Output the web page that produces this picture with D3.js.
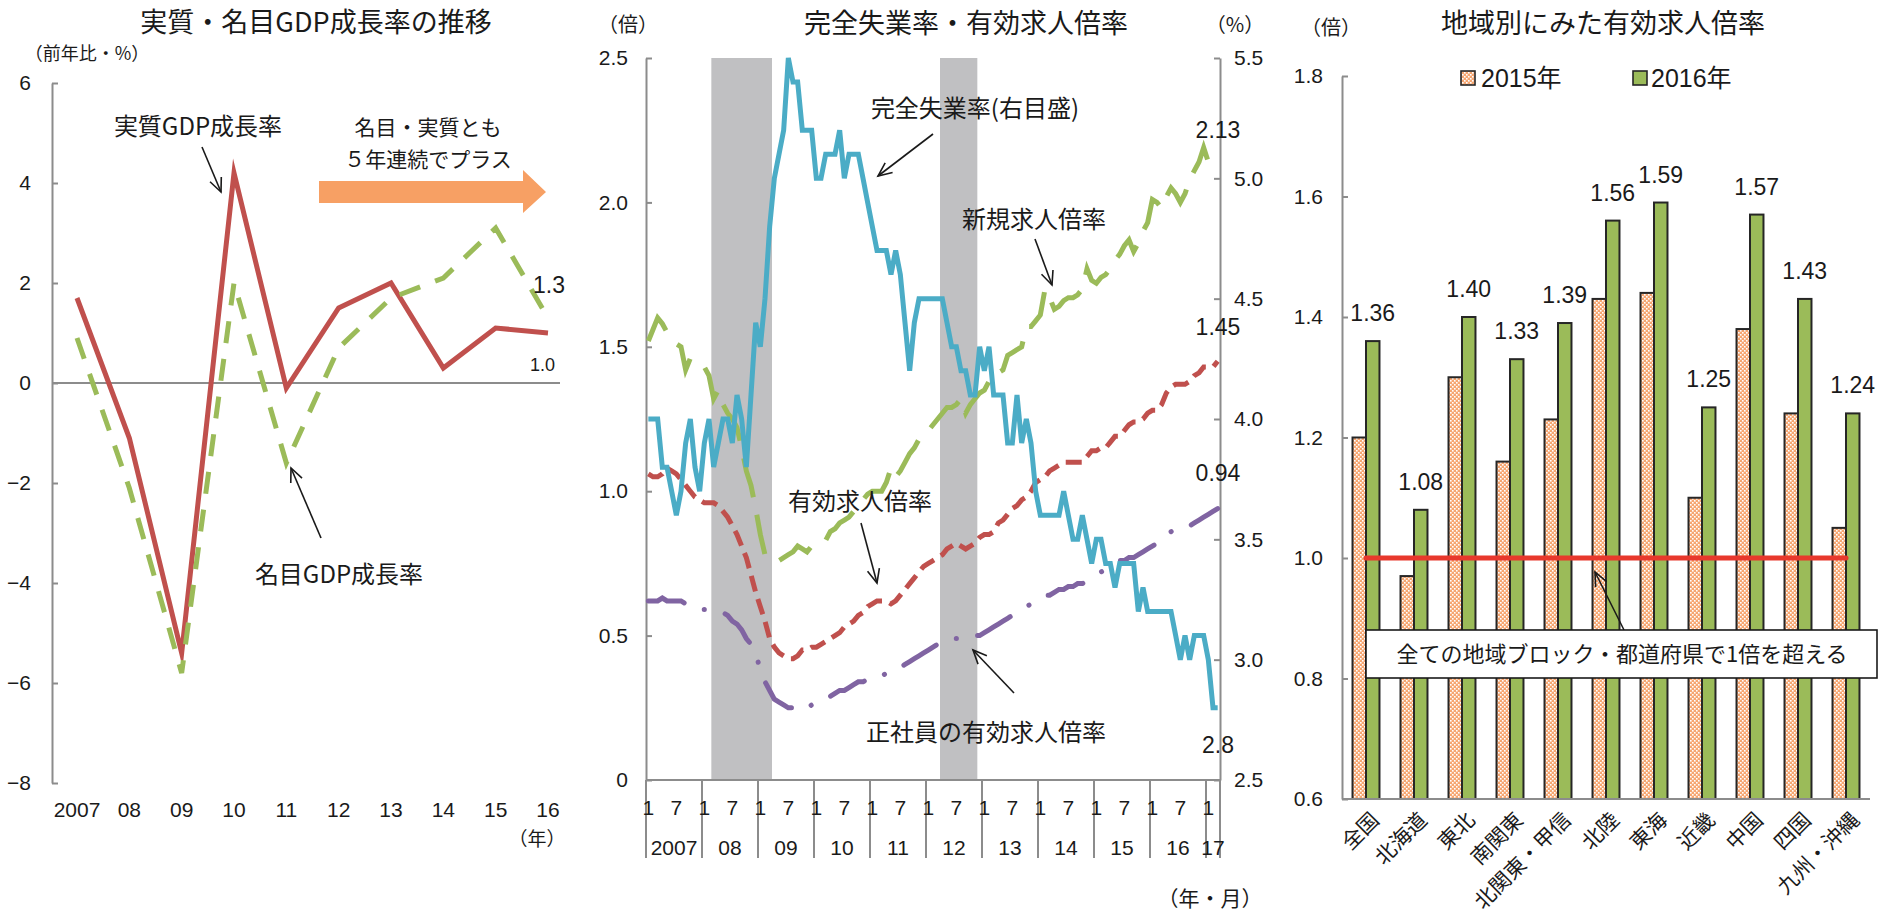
<!DOCTYPE html>
<html>
<head>
<meta charset="utf-8">
<script src="https://cdn.jsdelivr.net/npm/d3@7"></script>
<style>
  html, body { margin: 0; padding: 0; background: #fff; }
  svg { display: block; }
  text { font-family: "Liberation Sans", "Noto Sans CJK JP", sans-serif; fill: #1a1a1a; }
  .jp { font-family: "Noto Sans CJK JP", sans-serif; }
</style>
</head>
<body>
<svg id="chart" width="1883" height="914"></svg>
<script>
// ---------- Panel 1: GDP growth (annual, %) ----------
const gdpYears   = ["2007", "08", "09", "10", "11", "12", "13", "14", "15", "16"];
const realGdp    = [1.7, -1.1, -5.4, 4.2, -0.1, 1.5, 2.0, 0.3, 1.1, 1.0];
const nominalGdp = [0.9, -2.1, -5.8, 2.0, -1.6, 0.7, 1.7, 2.1, 3.1, 1.3];
const gdpTicks   = [-8, -6, -4, -2, 0, 2, 4, 6];

// ---------- Panel 2: monthly labour market, 2007/1 - 2017/3 ----------
const unemployment = [
  4.0,4.0,4.0,3.8,3.8,3.7,3.6,3.7,3.9,4.0,3.8,3.7,
  3.9,4.0,3.8,3.9,4.0,4.0,3.9,4.1,4.0,3.8,4.1,4.4,
  4.3,4.5,4.8,5.0,5.1,5.2,5.5,5.4,5.4,5.2,5.2,5.2,
  5.0,5.0,5.1,5.1,5.1,5.2,5.0,5.1,5.1,5.1,5.0,4.9,
  4.8,4.7,4.7,4.7,4.6,4.7,4.6,4.4,4.2,4.4,4.5,4.5,
  4.5,4.5,4.5,4.5,4.4,4.3,4.3,4.2,4.2,4.1,4.1,4.3,
  4.2,4.3,4.1,4.1,4.1,3.9,3.9,4.1,3.9,4.0,3.9,3.7,
  3.6,3.6,3.6,3.6,3.6,3.7,3.6,3.5,3.5,3.6,3.5,3.4,
  3.5,3.5,3.4,3.4,3.3,3.4,3.4,3.4,3.4,3.2,3.3,3.2,
  3.2,3.2,3.2,3.2,3.2,3.1,3.0,3.1,3.0,3.1,3.1,3.1,
  3.0,2.8,2.8
];
const jobsRatio = [
  1.06,1.05,1.05,1.06,1.08,1.07,1.06,1.04,1.02,1.00,0.98,0.97,
  0.96,0.96,0.96,0.95,0.93,0.91,0.88,0.85,0.81,0.77,0.71,0.65,
  0.60,0.55,0.49,0.46,0.44,0.43,0.42,0.42,0.43,0.45,0.45,0.46,
  0.46,0.47,0.48,0.49,0.50,0.51,0.53,0.54,0.55,0.57,0.58,0.60,
  0.61,0.62,0.62,0.62,0.61,0.62,0.64,0.66,0.68,0.70,0.72,0.74,
  0.75,0.76,0.77,0.78,0.80,0.81,0.82,0.81,0.80,0.81,0.82,0.84,
  0.85,0.85,0.86,0.89,0.90,0.92,0.94,0.95,0.97,0.98,1.00,1.03,
  1.04,1.05,1.07,1.08,1.09,1.10,1.10,1.10,1.10,1.10,1.12,1.14,
  1.14,1.15,1.15,1.17,1.19,1.19,1.21,1.23,1.24,1.24,1.25,1.27,
  1.28,1.28,1.30,1.34,1.36,1.37,1.37,1.37,1.38,1.40,1.41,1.43,
  1.43,1.43,1.45
];
const newJobsRatio = [
  1.52,1.56,1.60,1.58,1.55,1.53,1.51,1.50,1.42,1.46,1.45,1.44,
  1.43,1.40,1.32,1.35,1.30,1.27,1.25,1.22,1.15,1.07,1.02,0.94,
  0.85,0.78,0.78,0.76,0.76,0.77,0.78,0.79,0.81,0.80,0.79,0.81,
  0.81,0.82,0.83,0.86,0.87,0.89,0.90,0.91,0.93,0.96,0.97,0.99,
  1.00,1.00,1.00,1.03,1.08,1.05,1.07,1.10,1.13,1.15,1.18,1.20,
  1.21,1.23,1.25,1.27,1.29,1.29,1.30,1.32,1.27,1.30,1.32,1.34,
  1.35,1.38,1.41,1.41,1.42,1.47,1.48,1.49,1.50,1.57,1.57,1.59,
  1.61,1.70,1.67,1.63,1.64,1.66,1.67,1.67,1.68,1.70,1.77,1.73,
  1.72,1.74,1.75,1.77,1.80,1.82,1.85,1.87,1.83,1.86,1.90,1.93,
  2.01,2.00,1.98,2.02,2.05,2.03,2.00,2.03,2.08,2.11,2.14,2.19,
  2.14,2.12,2.13
];
const regularJobsRatio = [
  0.62,0.62,0.62,0.63,0.62,0.62,0.62,0.62,0.61,0.60,0.60,0.59,
  0.59,0.59,0.59,0.58,0.58,0.57,0.55,0.54,0.52,0.49,0.47,0.44,
  0.38,0.34,0.31,0.28,0.27,0.26,0.25,0.25,0.25,0.26,0.25,0.26,
  0.26,0.27,0.28,0.29,0.30,0.31,0.31,0.32,0.33,0.34,0.34,0.35,
  0.35,0.36,0.36,0.37,0.37,0.38,0.39,0.40,0.41,0.42,0.43,0.44,
  0.45,0.46,0.47,0.48,0.49,0.49,0.49,0.49,0.49,0.49,0.50,0.50,
  0.51,0.52,0.53,0.54,0.55,0.56,0.57,0.58,0.59,0.60,0.61,0.62,
  0.63,0.64,0.64,0.65,0.66,0.66,0.67,0.67,0.68,0.68,0.69,0.70,
  0.71,0.72,0.73,0.74,0.75,0.76,0.76,0.77,0.77,0.78,0.79,0.80,
  0.81,0.82,0.83,0.84,0.86,0.87,0.88,0.88,0.88,0.89,0.90,0.91,
  0.92,0.93,0.94
];
const recessions   = [["2008-03", "2009-03"], ["2012-04", "2012-11"]];
const monthYearLabels = ["2007", "08", "09", "10", "11", "12", "13", "14", "15", "16", "17"];
const ratioTicks   = [0, 0.5, 1.0, 1.5, 2.0, 2.5];
const rateTicks    = [2.5, 3.0, 3.5, 4.0, 4.5, 5.0, 5.5];

// ---------- Panel 3: regional jobs-to-applicants ratio ----------
const regions   = ["全国", "北海道", "東北", "南関東", "北関東・甲信", "北陸", "東海", "近畿", "中国", "四国", "九州・沖縄"];
const ratio2015 = [1.20, 0.97, 1.30, 1.16, 1.23, 1.43, 1.44, 1.10, 1.38, 1.24, 1.05];
const ratio2016 = [1.36, 1.08, 1.40, 1.33, 1.39, 1.56, 1.59, 1.25, 1.57, 1.43, 1.24];
const regionTicks = [0.6, 0.8, 1.0, 1.2, 1.4, 1.6, 1.8];
const parityLevel = 1.0;

// ---------- colours ----------
const C = {
  realRed: "#C0504D", nomGreen: "#9BBB59", aqua: "#4BACC6", purple: "#8064A2",
  axis: "#8c8c8c", shade: "#C0C0C2", orange: "#F7A064", barLine: "#262626", parity: "#E8382C"
};

const svg = d3.select("#chart");
svg.append("rect").attr("width", 1883).attr("height", 914).attr("fill", "#fff");

const defs = svg.append("defs");
const pat = defs.append("pattern").attr("id", "lattice")
  .attr("width", 4).attr("height", 4).attr("patternUnits", "userSpaceOnUse");
pat.append("rect").attr("width", 4).attr("height", 4).attr("fill", "#F6A671");
pat.append("rect").attr("x", 0).attr("y", 0).attr("width", 1.6).attr("height", 1.6).attr("fill", "#fff");
pat.append("rect").attr("x", 2).attr("y", 2).attr("width", 1.6).attr("height", 1.6).attr("fill", "#fff");

function arrow(g, xa, ya, xb, yb) {
  g.append("line").attr("x1", xa).attr("y1", ya).attr("x2", xb).attr("y2", yb)
    .attr("stroke", "#1a1a1a").attr("stroke-width", 1.6);
  const a = Math.atan2(yb - ya, xb - xa), L = 15, w = 0.42;
  g.append("path")
    .attr("d", `M${xb - L * Math.cos(a - w)},${yb - L * Math.sin(a - w)}L${xb},${yb}L${xb - L * Math.cos(a + w)},${yb - L * Math.sin(a + w)}`)
    .attr("fill", "none").attr("stroke", "#1a1a1a").attr("stroke-width", 1.6);
}

function styleAxis(g, size) {
  g.attr("font-size", size).attr("font-family", null);
  g.select(".domain").attr("stroke", C.axis).attr("stroke-width", 2);
  g.selectAll(".tick line").attr("stroke", C.axis).attr("stroke-width", 2);
  g.selectAll(".tick text").attr("fill", "#1a1a1a");
}

// =================== Panel 1 ===================
{
  const g = svg.append("g");
  const x = d3.scalePoint().domain(gdpYears).range([77, 548]);
  const y = d3.scaleLinear().domain([-8, 6]).range([783, 83]);

  g.append("text").attr("class", "jp").attr("x", 316).attr("y", 32).attr("text-anchor", "middle")
    .attr("font-size", 27).text("実質・名目GDP成長率の推移");
  g.append("text").attr("class", "jp").attr("x", 87).attr("y", 60).attr("text-anchor", "middle")
    .attr("font-size", 18).text("（前年比・%）");

  const ax = g.append("g").attr("transform", "translate(52,0)")
    .call(d3.axisLeft(y).tickValues(gdpTicks).tickSize(-6).tickSizeOuter(0).tickPadding(21));
  styleAxis(ax, 21);

  g.append("line").attr("x1", 52).attr("x2", 560).attr("y1", y(0)).attr("y2", y(0))
    .attr("stroke", C.axis).attr("stroke-width", 2);

  g.selectAll(".yr").data(gdpYears).join("text").attr("class", "yr")
    .attr("x", d => x(d)).attr("y", 817).attr("text-anchor", "middle").attr("font-size", 21).text(d => d);
  g.append("text").attr("class", "jp").attr("x", 537).attr("y", 846).attr("text-anchor", "middle")
    .attr("font-size", 19).text("（年）");

  const line = d3.line().x((d, i) => x(gdpYears[i])).y(d => y(d));
  g.append("path").attr("d", line(realGdp)).attr("fill", "none")
    .attr("stroke", C.realRed).attr("stroke-width", 5).attr("stroke-linejoin", "miter").attr("stroke-miterlimit", 6);
  g.append("path").attr("d", line(nominalGdp)).attr("fill", "none")
    .attr("stroke", C.nomGreen).attr("stroke-width", 5).attr("stroke-dasharray", "22,16");

  // orange block arrow
  g.append("path").attr("d", "M319,181H523V170L546,192L523,213V203H319Z").attr("fill", C.orange);
  g.append("text").attr("class", "jp").attr("x", 428).attr("y", 135).attr("text-anchor", "middle")
    .attr("font-size", 21).text("名目・実質とも");
  g.append("text").attr("class", "jp").attr("x", 428).attr("y", 167).attr("text-anchor", "middle")
    .attr("font-size", 21).text("５年連続でプラス");

  g.append("text").attr("class", "jp").attr("x", 198).attr("y", 135).attr("text-anchor", "middle")
    .attr("font-size", 24).text("実質GDP成長率");
  arrow(g, 202, 147, 221, 192);
  g.append("text").attr("class", "jp").attr("x", 339).attr("y", 583).attr("text-anchor", "middle")
    .attr("font-size", 24).text("名目GDP成長率");
  arrow(g, 321, 538, 291, 468);

  g.append("text").attr("x", 533).attr("y", 293).attr("font-size", 23)
    .text(d3.format(".1f")(nominalGdp[nominalGdp.length - 1]));
  g.append("text").attr("x", 530).attr("y", 371).attr("font-size", 18)
    .text(d3.format(".1f")(realGdp[realGdp.length - 1]));
}

// =================== Panel 2 ===================
{
  const g = svg.append("g");
  const fmtM = d3.timeFormat("%Y-%m");
  const months = d3.timeMonth.range(new Date(2007, 0, 1), new Date(2017, 3, 1));
  const keys = months.map(fmtM);
  const x = d3.scaleBand().domain(keys).range([646, 1220]).padding(0);
  const cx = k => x(k) + x.bandwidth() / 2;
  const yL = d3.scaleLinear().domain([0, 2.5]).range([780, 58]);
  const yR = d3.scaleLinear().domain([2.5, 5.5]).range([780, 58]);

  g.append("text").attr("class", "jp").attr("x", 966).attr("y", 33).attr("text-anchor", "middle")
    .attr("font-size", 27).text("完全失業率・有効求人倍率");
  g.append("text").attr("class", "jp").attr("x", 628).attr("y", 32).attr("text-anchor", "middle")
    .attr("font-size", 20).text("（倍）");
  g.append("text").attr("class", "jp").attr("x", 1235).attr("y", 32).attr("text-anchor", "middle")
    .attr("font-size", 20).text("（%）");

  // recession shading
  recessions.forEach(([a, b]) => {
    g.append("rect").attr("x", x(a)).attr("y", yL(2.5))
      .attr("width", x(b) + x.bandwidth() - x(a)).attr("height", yL(0) - yL(2.5)).attr("fill", C.shade);
  });

  const axL = g.append("g").attr("transform", "translate(646,0)")
    .call(d3.axisLeft(yL).tickValues(ratioTicks).tickSize(-6).tickSizeOuter(0).tickPadding(18)
      .tickFormat(d => d === 0 ? "0" : d3.format(".1f")(d)));
  styleAxis(axL, 21);
  const axR = g.append("g").attr("transform", "translate(1220,0)")
    .call(d3.axisRight(yR).tickValues(rateTicks).tickSize(-6).tickSizeOuter(0).tickPadding(14)
      .tickFormat(d3.format(".1f")));
  styleAxis(axR, 21);

  // bottom category axis (month / year)
  g.append("line").attr("x1", 646).attr("x2", 1220).attr("y1", 780).attr("y2", 780)
    .attr("stroke", C.axis).attr("stroke-width", 2);
  const jan = months.filter(m => m.getMonth() === 0);
  const seps = jan.map(m => x(fmtM(m))).concat([1220]);
  seps.forEach(sx => g.append("line").attr("x1", sx).attr("x2", sx).attr("y1", 780).attr("y2", 858)
    .attr("stroke", C.axis).attr("stroke-width", 2));
  months.filter(m => m.getMonth() === 0 || m.getMonth() === 6).forEach(m => {
    g.append("text").attr("x", cx(fmtM(m))).attr("y", 815).attr("text-anchor", "middle")
      .attr("font-size", 21).text(m.getMonth() + 1);
  });
  monthYearLabels.forEach((lab, i) => {
    g.append("text").attr("x", (seps[i] + seps[i + 1]) / 2).attr("y", 855).attr("text-anchor", "middle")
      .attr("font-size", 21).text(lab);
  });
  g.append("text").attr("class", "jp").attr("x", 1210).attr("y", 906).attr("text-anchor", "middle")
    .attr("font-size", 21).text("（年・月）");

  const lineL = d3.line().x((d, i) => cx(keys[i])).y(d => yL(d));
  const lineR = d3.line().x((d, i) => cx(keys[i])).y(d => yR(d));
  g.append("path").attr("d", lineL(regularJobsRatio)).attr("fill", "none").attr("stroke", C.purple)
    .attr("stroke-width", 5).attr("stroke-linecap", "round").attr("stroke-dasharray", "38,22,0.1,22");
  g.append("path").attr("d", lineL(jobsRatio)).attr("fill", "none").attr("stroke", C.realRed)
    .attr("stroke-width", 5).attr("stroke-dasharray", "16,8");
  g.append("path").attr("d", lineL(newJobsRatio)).attr("fill", "none").attr("stroke", C.nomGreen)
    .attr("stroke-width", 5).attr("stroke-dasharray", "40,18");
  g.append("path").attr("d", lineR(unemployment)).attr("fill", "none").attr("stroke", C.aqua)
    .attr("stroke-width", 5).attr("stroke-linejoin", "miter").attr("stroke-miterlimit", 3);

  // annotations
  const ann = (t, xx, yy) => g.append("text").attr("class", "jp").attr("x", xx).attr("y", yy)
    .attr("text-anchor", "middle").attr("font-size", 24).text(t);
  ann("完全失業率(右目盛)", 975, 117);
  arrow(g, 933, 134, 878, 176);
  ann("新規求人倍率", 1034, 228);
  arrow(g, 1035, 239, 1052, 285);
  ann("有効求人倍率", 860, 510);
  arrow(g, 861, 523, 877, 583);
  ann("正社員の有効求人倍率", 986, 741);
  arrow(g, 1014, 693, 973, 650);

  const endLab = (v, yy) => g.append("text").attr("x", 1218).attr("y", yy).attr("text-anchor", "middle")
    .attr("font-size", 23).text(v);
  endLab(d3.format(".2f")(newJobsRatio[newJobsRatio.length - 1]), 138);
  endLab(d3.format(".2f")(jobsRatio[jobsRatio.length - 1]), 335);
  endLab(d3.format(".2f")(regularJobsRatio[regularJobsRatio.length - 1]), 481);
  endLab(d3.format(".1f")(unemployment[unemployment.length - 1]), 753);
}

// =================== Panel 3 ===================
{
  const g = svg.append("g");
  const x = d3.scaleBand().domain(regions).range([1342, 1870]).padding(0);
  const sub = d3.scaleBand().domain(["2015", "2016"]).range([0, x.bandwidth()]).paddingOuter(0.78).paddingInner(0);
  const y = d3.scaleLinear().domain([0.6, 1.8]).range([799, 76]);

  g.append("text").attr("class", "jp").attr("x", 1603).attr("y", 33).attr("text-anchor", "middle")
    .attr("font-size", 27).text("地域別にみた有効求人倍率");
  g.append("text").attr("class", "jp").attr("x", 1331).attr("y", 35).attr("text-anchor", "middle")
    .attr("font-size", 20).text("（倍）");

  const ax = g.append("g").attr("transform", "translate(1342,0)")
    .call(d3.axisLeft(y).tickValues(regionTicks).tickSize(-6).tickSizeOuter(0).tickPadding(19)
      .tickFormat(d3.format(".1f")));
  styleAxis(ax, 21);

  const groups = g.selectAll(".grp").data(regions).join("g").attr("class", "grp")
    .attr("transform", d => `translate(${x(d)},0)`);
  groups.append("rect").attr("x", sub("2015")).attr("width", sub.bandwidth())
    .attr("y", (d, i) => y(ratio2015[i])).attr("height", (d, i) => y(0.6) - y(ratio2015[i]))
    .attr("fill", "url(#lattice)").attr("stroke", C.barLine).attr("stroke-width", 2);
  groups.append("rect").attr("x", sub("2016")).attr("width", sub.bandwidth())
    .attr("y", (d, i) => y(ratio2016[i])).attr("height", (d, i) => y(0.6) - y(ratio2016[i]))
    .attr("fill", C.nomGreen).attr("stroke", C.barLine).attr("stroke-width", 2);
  groups.append("text").attr("x", sub("2016") + sub.bandwidth() / 2)
    .attr("y", (d, i) => y(ratio2016[i]) - 20).attr("text-anchor", "middle").attr("font-size", 23)
    .text((d, i) => d3.format(".2f")(ratio2016[i]));

  g.append("line").attr("x1", 1342).attr("x2", 1870).attr("y1", 799).attr("y2", 799)
    .attr("stroke", C.axis).attr("stroke-width", 2);

  regions.forEach(r => {
    g.append("text").attr("class", "jp")
      .attr("transform", `translate(${x(r) + x.bandwidth() / 2 + 8},${815}) rotate(-45)`)
      .attr("text-anchor", "end").attr("dominant-baseline", "central").attr("font-size", 21).text(r);
  });

  // parity line at 1.0 across category centres
  g.append("line")
    .attr("x1", x(regions[0]) + x.bandwidth() / 2).attr("x2", x(regions[regions.length - 1]) + x.bandwidth() / 2)
    .attr("y1", y(parityLevel)).attr("y2", y(parityLevel))
    .attr("stroke", C.parity).attr("stroke-width", 5).attr("stroke-linecap", "round");

  // legend
  g.append("rect").attr("x", 1461).attr("y", 71).attr("width", 14).attr("height", 14)
    .attr("fill", "url(#lattice)").attr("stroke", C.barLine).attr("stroke-width", 1.6);
  g.append("text").attr("x", 1481).attr("y", 87).attr("font-size", 25).text("2015年");
  g.append("rect").attr("x", 1633).attr("y", 71).attr("width", 14).attr("height", 14)
    .attr("fill", C.nomGreen).attr("stroke", C.barLine).attr("stroke-width", 1.6);
  g.append("text").attr("x", 1651).attr("y", 87).attr("font-size", 25).text("2016年");

  // call-out box
  arrow(g, 1624, 630, 1595, 572);
  g.append("rect").attr("x", 1366).attr("y", 630).attr("width", 511).attr("height", 48)
    .attr("fill", "#fff").attr("stroke", "#1a1a1a").attr("stroke-width", 1.6);
  g.append("text").attr("class", "jp").attr("x", 1622).attr("y", 662).attr("text-anchor", "middle")
    .attr("font-size", 22).text("全ての地域ブロック・都道府県で1倍を超える");
}
</script>
</body>
</html>
